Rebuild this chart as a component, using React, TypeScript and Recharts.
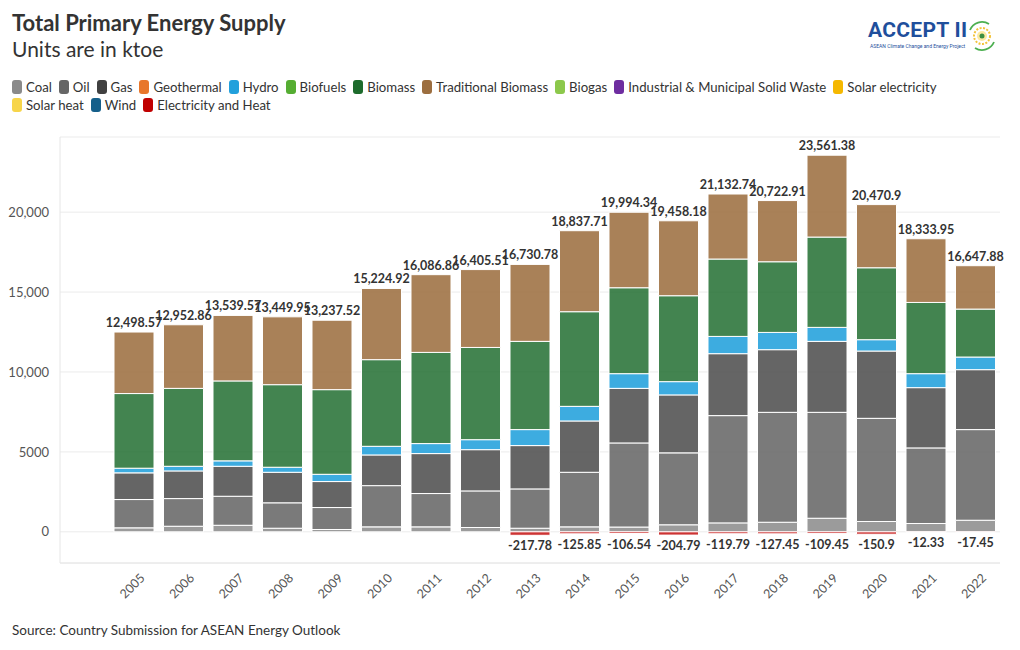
import React from 'react';
import { BarChart, Bar, XAxis, YAxis, CartesianGrid, LabelList } from 'recharts';

const years = ['2005', '2006', '2007', '2008', '2009', '2010', '2011', '2012', '2013', '2014', '2015', '2016', '2017', '2018', '2019', '2020', '2021', '2022'];

// ktoe
const coal = [250, 350, 410, 225, 145, 310, 310, 270, 225, 310, 300, 440, 560, 600, 850, 645, 520, 725];
const oil = [1770, 1730, 1815, 1590, 1375, 2580, 2085, 2290, 2460, 3415, 5260, 4500, 6710, 6875, 6625, 6455, 4730, 5670];
const gas = [1670, 1730, 1875, 1910, 1625, 1920, 2500, 2580, 2710, 3210, 3415, 3625, 3875, 3920, 4440, 4210, 3770, 3750];
const hydro = [290, 290, 340, 315, 455, 540, 625, 625, 1000, 915, 920, 830, 1080, 1080, 875, 710, 875, 790];
const biomass = [4670, 4875, 5000, 5165, 5295, 5420, 5705, 5770, 5520, 5920, 5375, 5375, 4840, 4420, 5650, 4500, 4455, 3000];
const tradBiomass = [3848.57, 3977.86, 4099.57, 4244.95, 4342.52, 4454.92, 4861.86, 4870.51, 4815.78, 5067.71, 4724.34, 4688.18, 4067.74, 3827.91, 5121.38, 3950.9, 3983.95, 2712.88];
const electricityHeat = [null, null, null, null, null, null, null, null, -217.78, -125.85, -106.54, -204.79, -119.79, -127.45, -109.45, -150.9, -12.33, -17.45];

const yTicks = [0, 5000, 10000, 15000, 20000];

const legendRow1 = [
    { name: 'Coal', color: '#8a8a8a' },
    { name: 'Oil', color: '#666666' },
    { name: 'Gas', color: '#404040' },
    { name: 'Geothermal', color: '#e8762b' },
    { name: 'Hydro', color: '#22a0dc' },
    { name: 'Biofuels', color: '#55ad32' },
    { name: 'Biomass', color: '#1d6b2c' },
    { name: 'Traditional Biomass', color: '#9c6e3f' },
    { name: 'Biogas', color: '#8cc84b' },
    { name: 'Industrial & Municipal Solid Waste', color: '#6e2da0' },
    { name: 'Solar electricity', color: '#f5b800' },
];
const legendRow2 = [
    { name: 'Solar heat', color: '#f7d54a' },
    { name: 'Wind', color: '#155f8a' },
    { name: 'Electricity and Heat', color: '#c00000' },
];

const FONT = '"Source Sans Pro", Lato, "Noto Sans", sans-serif';

const data = years.map((year, i) => ({
    year,
    coal: coal[i],
    oil: oil[i],
    gas: gas[i],
    hydro: hydro[i],
    biomass: biomass[i],
    tradBiomass: tradBiomass[i],
    electricityHeat: electricityHeat[i],
    total: coal[i] + oil[i] + gas[i] + hydro[i] + biomass[i] + tradBiomass[i],
}));

const fmt = (v: number) => v.toLocaleString('en-US', { maximumFractionDigits: 2 });

const TotalLabel = (props: any) => {
    const { x, y, width, value } = props;
    return (
        <text x={x + width / 2} y={y - 5} textAnchor="middle" fontSize={12.5} fontWeight={700} fill="#333" fontFamily={FONT}>
            {fmt(value)}
        </text>
    );
};

const NegLabel = (props: any) => {
    const { x, y, width, height, value } = props;
    if (value == null) return null;
    const bottom = Math.max(y, y + height);
    return (
        <text x={x + width / 2} y={bottom + 15} textAnchor="middle" fontSize={12.5} fontWeight={700} fill="#333" fontFamily={FONT}>
            {fmt(value)}
        </text>
    );
};

const XTick = (props: any) => {
    const { x, y, payload } = props;
    const tx = x + 5;
    const ty = y + 1;
    return (
        <text x={tx} y={ty} transform={`rotate(-45, ${tx}, ${ty})`} textAnchor="end" dominantBaseline="hanging" fontSize={12.5} fill="#555" fontFamily={FONT}>
            {payload.value}
        </text>
    );
};

const LegendRow = ({ items }: { items: { name: string; color: string }[] }) => (
    <div style={{ display: 'flex', alignItems: 'center', height: 18 }}>
        {items.map((it) => (
            <div key={it.name} style={{ display: 'flex', alignItems: 'center', marginRight: 7 }}>
                <span style={{ display: 'inline-block', width: 10, height: 14, borderRadius: 3, background: it.color, marginRight: 4 }} />
                <span style={{ fontSize: 13.2, color: '#333' }}>{it.name}</span>
            </div>
        ))}
    </div>
);

const Logo = () => (
    <div style={{ position: 'absolute', left: 866, top: 18, width: 140, height: 36 }}>
        <div style={{ position: 'absolute', left: 2, top: 0, fontSize: 21, fontWeight: 700, color: '#1f4f9c', fontFamily: 'Roboto, sans-serif', letterSpacing: 0.3 }}>
            ACCEPT II
        </div>
        <div style={{ position: 'absolute', left: 4, top: 25, fontSize: 5, color: '#1f4f9c', fontFamily: 'Roboto, sans-serif', whiteSpace: 'nowrap' }}>
            ASEAN Climate Change and Energy Project
        </div>
        <svg style={{ position: 'absolute', left: 99, top: 1 }} width={34} height={34}>
            <path d="M 5 11 A 13 13 0 0 1 24 5" fill="none" stroke="#4caf50" strokeWidth={1.8} />
            <path d="M 29 23 A 13 13 0 0 1 10 29" fill="none" stroke="#4caf50" strokeWidth={1.8} />
            <circle cx={17} cy={17} r={8} fill="none" stroke="#f3c33a" strokeWidth={2} strokeDasharray="2 1.5" />
            <circle cx={17} cy={17} r={5} fill="#fde9a0" />
            <circle cx={17} cy={17} r={2.5} fill="#3e8e41" />
        </svg>
    </div>
);

export default function App() {
    return (
        <div style={{ position: 'absolute', left: 0, top: 0, width: 1020, height: 650, background: '#fff', fontFamily: FONT, color: '#333', overflow: 'hidden' }}>
            <div style={{ position: 'absolute', left: 12, top: 9, fontSize: 22, fontWeight: 700, lineHeight: '28px' }}>
                Total Primary Energy Supply
            </div>
            <div style={{ position: 'absolute', left: 12, top: 35, fontSize: 21, lineHeight: '28px' }}>Units are in ktoe</div>
            <Logo />
            <div style={{ position: 'absolute', left: 12, top: 78 }}>
                <LegendRow items={legendRow1} />
                <LegendRow items={legendRow2} />
            </div>

            <div style={{ position: 'absolute', left: 0, top: 0 }}>
                <BarChart
                    width={1020}
                    height={650}
                    data={data}
                    stackOffset="sign"
                    barSize={40}
                    margin={{ top: 137, right: 20, bottom: 27, left: 8 }}
                >
                    <CartesianGrid vertical={false} stroke="#ebebeb" />
                    <XAxis
                        dataKey="year"
                        height={60}
                        padding={{ left: 49, right: 0 }}
                        tickLine={false}
                        axisLine={{ stroke: '#e6e6e6' }}
                        tick={<XTick />}
                        interval={0}
                    />
                    <YAxis
                        width={52}
                        domain={[-1950, 24700]}
                        ticks={yTicks}
                        allowDataOverflow
                        tickLine={false}
                        axisLine={{ stroke: '#e6e6e6' }}
                        tickMargin={5}
                        tick={{ fontSize: 13, fill: '#555', fontFamily: FONT }}
                        tickFormatter={(v: number) => (v >= 10000 ? v.toLocaleString('en-US') : String(v))}
                    />
                    <Bar dataKey="coal" stackId="a" fill="#8a8a8a" fillOpacity={0.85} stroke="#fff" strokeWidth={1} isAnimationActive={false} />
                    <Bar dataKey="oil" stackId="a" fill="#666666" fillOpacity={0.87} stroke="#fff" strokeWidth={1} isAnimationActive={false} />
                    <Bar dataKey="gas" stackId="a" fill="#4a4a4a" fillOpacity={0.85} stroke="#fff" strokeWidth={1} isAnimationActive={false} />
                    <Bar dataKey="hydro" stackId="a" fill="#22a0dc" fillOpacity={0.88} stroke="#fff" strokeWidth={1} isAnimationActive={false} />
                    <Bar dataKey="biomass" stackId="a" fill="#1d6b2c" fillOpacity={0.83} stroke="#fff" strokeWidth={1} isAnimationActive={false} />
                    <Bar dataKey="tradBiomass" stackId="a" fill="#9c6e3f" fillOpacity={0.87} stroke="#fff" strokeWidth={1} isAnimationActive={false}>
                        <LabelList dataKey="total" content={<TotalLabel />} />
                    </Bar>
                    <Bar dataKey="electricityHeat" stackId="a" fill="#c00000" fillOpacity={0.8} stroke="#fff" strokeWidth={1} isAnimationActive={false}>
                        <LabelList dataKey="electricityHeat" content={<NegLabel />} />
                    </Bar>
                </BarChart>
            </div>

            <div style={{ position: 'absolute', left: 12, top: 622, fontSize: 13.5 }}>
                Source: Country Submission for ASEAN Energy Outlook
            </div>
        </div>
    );
}
